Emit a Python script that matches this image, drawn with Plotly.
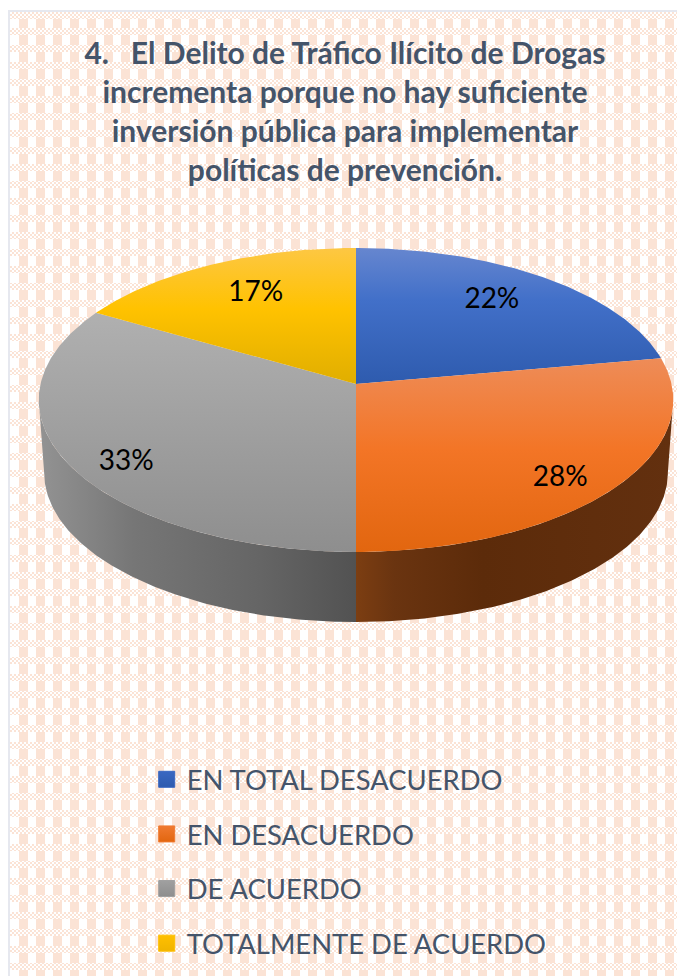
import math
import urllib.parse
import plotly.graph_objects as go

CATEGORIES = ["EN TOTAL DESACUERDO", "EN DESACUERDO", "DE ACUERDO", "TOTALMENTE DE ACUERDO"]
VALUES = [22.2, 27.8, 33.3, 16.7]
TITLE_LINES = [
    "4.\u00a0\u00a0\u00a0El Delito de Tráfico Ilícito de Drogas",
    "incrementa porque no hay suficiente",
    "inversión pública para implementar",
    "políticas de prevención.",
]

# styles
TEXT = "#44546A"
FONT = "Lato, Carlito, Calibri, sans-serif"
TOP_STOPS = [
    [(0, "#6686cf"), (0.38, "#4270c9"), (1, "#2e5bae")],
    [(0, "#ee8c58"), (0.47, "#f37526"), (1, "#e2660f")],
    [(0, "#b0b0b0"), (1, "#8e8e8e")],
    [(0, "#fdc743"), (0.45, "#ffc200"), (1, "#e0ae00")],
]
WALL_STOPS = {
    1: [(0, "#7c3e12"), (0.12, "#6a3410"), (0.4, "#5c2b0a"), (1, "#63300f")],
    2: [(0, "#939393"), (0.3, "#767676"), (0.7, "#656565"), (1, "#525252")],
}
LEGEND_SWATCH = ["#3a68c2", "#f07a30", "#a0a0a0", "#ffc000"]
LEGEND_GRAD = ["#2e5bae", "#e2660f", "#8e8e8e", "#f0b400"]
LABEL_R = [0.762, 0.837, 0.842, 0.744]
LABEL_DA = [-3.0, 3.4, -4.7, 2.9]
LABEL_DY = 3

# projection of the tilted disc
CX, CY, RX, RY, K = 356, 384, 315.5, 150.3, 0.105
DEPTH_Y, DEPTH_S = 457, 0.983


def project(deg, r=1.0, floor=False):
    u, v = r * math.sin(math.radians(deg)), r * math.cos(math.radians(deg))
    d = 1 + K * v
    s = DEPTH_S if floor else 1.0
    cy = DEPTH_Y if floor else CY
    return CX + s * RX * u / d, cy - s * RY * v / d


def arc(a0, a1, floor=False):
    n = max(2, int(abs(a1 - a0) * 2))
    return [project(a0 + (a1 - a0) * i / n, floor=floor) for i in range(n + 1)]


total = sum(VALUES)
edges = [0]
for val in VALUES:
    edges.append(edges[-1] + 360 * val / total)

fig = go.Figure()

# side walls
for i in range(len(VALUES)):
    a0, a1 = max(edges[i], 96), min(edges[i + 1], 264)
    if a1 <= a0:
        continue
    pts = arc(a0, a1) + arc(a1, a0, floor=True)
    xs, ys = zip(*pts)
    fig.add_trace(go.Scatter(
        x=list(xs) + [xs[0]], y=list(ys) + [ys[0]], mode="lines", line=dict(width=0),
        fill="toself", showlegend=False, hoverinfo="skip",
        fillgradient=dict(type="horizontal", start=min(xs), stop=max(xs),
                          colorscale=[list(s) for s in WALL_STOPS[i]]),
    ))

# top face
for i in range(len(VALUES)):
    pts = [(CX, CY)] + arc(edges[i], edges[i + 1]) + [(CX, CY)]
    xs, ys = zip(*pts)
    fig.add_trace(go.Scatter(
        x=xs, y=ys, mode="lines", line=dict(width=0), fill="toself",
        showlegend=False, name=CATEGORIES[i], hoverinfo="skip",
        fillgradient=dict(type="vertical", start=min(ys), stop=max(ys),
                          colorscale=[list(s) for s in TOP_STOPS[i]]),
    ))

# data labels
lx, ly, lt = [], [], []
for i, val in enumerate(VALUES):
    mid = (edges[i] + edges[i + 1]) / 2 + LABEL_DA[i]
    x, y = project(mid, LABEL_R[i])
    lx.append(x)
    ly.append(y + LABEL_DY)
    lt.append(f"{round(100 * val / total)}%")
fig.add_trace(go.Scatter(
    x=lx, y=ly, text=lt, mode="text", showlegend=False, hoverinfo="skip",
    textfont=dict(family=FONT, size=28, color="#000000"),
))

# legend entries
for i, cat in enumerate(CATEGORIES):
    fig.add_trace(go.Scatter(
        x=[None], y=[None], mode="markers", name=cat, legendgroup=cat,
        marker=dict(symbol="square", size=16, color=LEGEND_SWATCH[i],
                    gradient=dict(type="vertical", color=LEGEND_GRAD[i]),
                    line=dict(width=1, color=LEGEND_SWATCH[i])),
    ))

# tiled background: vertical bars and dotted horizontal bands
svg = (
    '<svg xmlns="http://www.w3.org/2000/svg" width="677" height="976">'
    '<defs>'
    '<pattern id="c" width="4" height="4" patternUnits="userSpaceOnUse">'
    '<rect width="4" height="4" fill="#ffffff"/>'
    '<rect width="2" height="2" fill="#fbe3d5"/>'
    '<rect x="2" y="2" width="2" height="2" fill="#fbe3d5"/>'
    '</pattern>'
    '</defs>'
    '<rect width="677" height="976" fill="#ffffff"/>'
)
for x in range(19, 677, 17):
    svg += f'<rect x="{x}" y="12" width="9" height="964" fill="#fbe3d5"/>'
for y in range(11, 976, 17):
    svg += f'<rect x="10" y="{max(y, 12)}" width="667" height="7" fill="url(#c)"/>'
svg += '<rect x="8" y="10" width="669" height="2" fill="#e6e8ef"/>'
svg += '<rect x="8" y="10" width="2" height="966" fill="#e6e8ef"/>'
svg += '</svg>'
source = "data:image/svg+xml," + urllib.parse.quote(svg)

fig.update_layout(
    width=677, height=976, autosize=False,
    margin=dict(l=0, r=0, t=0, b=0),
    paper_bgcolor="rgba(0,0,0,0)", plot_bgcolor="rgba(0,0,0,0)",
    xaxis=dict(range=[0, 677], visible=False, fixedrange=True),
    yaxis=dict(range=[976, 0], visible=False, fixedrange=True),
    title=dict(
        text="<b>" + "<br>".join(TITLE_LINES) + "</b>",
        x=345 / 677, xanchor="center", xref="paper",
        y=1 - 64 / 976, yanchor="top", yref="container",
        font=dict(family=FONT, size=30, color=TEXT),
    ),
    legend=dict(
        x=146.7 / 677, y=1 - 755 / 976, xanchor="left", yanchor="top",
        bgcolor="rgba(0,0,0,0)", tracegroupgap=16, itemsizing="trace",
        font=dict(family=FONT, size=27.4, color=TEXT),
    ),
    images=[dict(source=source, xref="paper", yref="paper", x=0, y=1,
                 sizex=1, sizey=1, xanchor="left", yanchor="top",
                 sizing="stretch", layer="below")],
)

fig.write_html("out.html", config={"displayModeBar": False},
               post_script="document.body.style.margin='0';document.body.style.overflow='hidden';")
